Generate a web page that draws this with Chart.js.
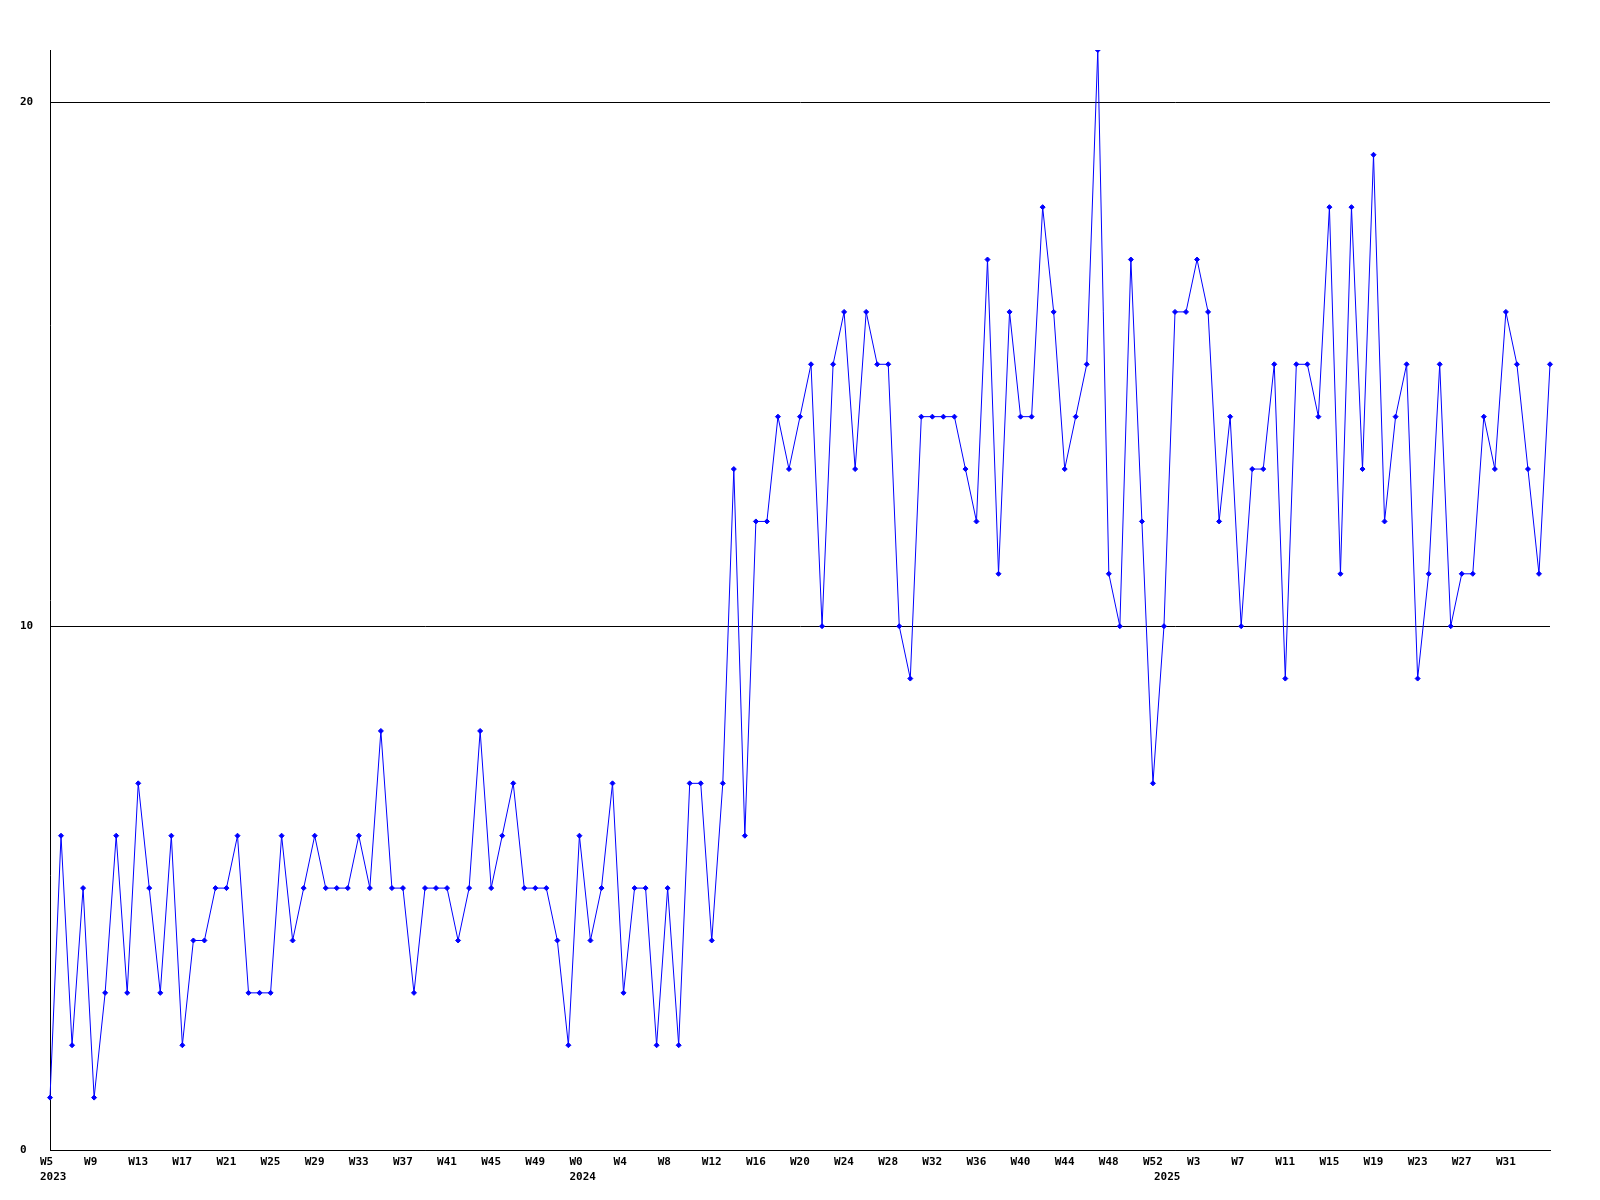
<!DOCTYPE html>
<html>
<head>
<meta charset="utf-8">
<script src="https://cdn.jsdelivr.net/npm/chart.js@4"></script>
<style>
  body { margin: 0; background: #fff; }
</style>
</head>
<body>
<canvas id="chart" width="1600" height="1200"></canvas>
<script>
// weekly counts
const years = [2023, 2024, 2025];
const firstWeeks = [5, 0, 0];
const counts2023 = [1, 6, 2, 5, 1, 3, 6, 3, 7, 5, 3, 6, 2, 4, 4, 5, 5, 6, 3, 3, 3, 6, 4, 5, 6,
                    5, 5, 5, 6, 5, 8, 5, 5, 3, 5, 5, 5, 4, 5, 8, 5, 6, 7, 5, 5, 5, 4, 2];
const counts2024 = [6, 4, 5, 7, 3, 5, 5, 2, 5, 2, 7, 7, 4, 7, 13, 6, 12, 12, 14, 13, 14, 15, 10,
                    15, 16, 13, 16, 15, 15, 10, 9, 14, 14, 14, 14, 13, 12, 17, 11, 16, 14, 14, 18, 16, 13, 14,
                    15, 21, 11, 10, 17, 12, 7];
const counts2025 = [10, 16, 16, 17, 16, 12, 14, 10, 13, 13, 15, 9, 15, 15, 14,
                    18, 11, 18, 13, 19, 12, 14, 15, 9, 11, 15, 10, 11, 11, 14, 13, 16, 15, 13, 11, 15];
const yTicks = [0, 10, 20];
const yMax = 21;
const tickEvery = 4;

// Construction des categories (annee + semaine)
const countsByYear = [counts2023, counts2024, counts2025];
let weekLabels = [];
let weekYears = [];
let values = [];
years.forEach((year, i) => {
    countsByYear[i].forEach((v, j) => {
        weekLabels.push('W' + (firstWeeks[i] + j));
        weekYears.push(year);
        values.push(v);
    });
});

// semaine tous les 4 points, annee sous le premier point de chaque annee
// (pas de label sur le dernier point, il deborderait)
function xLabel(index) {
    let week = (index % tickEvery === 0 && index < weekLabels.length - 1) ? weekLabels[index] : '';
    let newYear = index === 0 || weekYears[index] !== weekYears[index - 1];
    if (newYear) return [week, String(weekYears[index])];
    return week;
}
let xTickLabels = weekLabels.map((w, i) => xLabel(i));

const tickFont = { family: 'DejaVu Sans Mono', size: 11, weight: 'bold', lineHeight: 1.35 };

new Chart(document.getElementById('chart'), {
    type: 'line',
    data: {
        labels: weekLabels,
        datasets: [{
            data: values,
            borderColor: '#0000ff',
            backgroundColor: '#0000ff',
            borderWidth: 1,
            pointStyle: 'rectRot',
            pointRadius: 2.5,
            pointBorderWidth: 1,
            tension: 0,
            fill: false
        }]
    },
    options: {
        responsive: false,
        animation: false,
        devicePixelRatio: 1,
        layout: { padding: { left: 20, right: 50, top: 50, bottom: 0 } },
        plugins: { legend: { display: false }, tooltip: { enabled: false } },
        scales: {
            x: {
                offset: false,
                grid: { display: false, drawTicks: false },
                border: { display: true, color: '#000', width: 1 },
                afterFit: scale => { scale.height = 50; },
                ticks: {
                    autoSkip: false,
                    maxRotation: 0,
                    minRotation: 0,
                    align: 'start',
                    labelOffset: -10,
                    padding: 5,
                    color: '#000',
                    font: tickFont,
                    callback: (value, index) => xTickLabels[index]
                }
            },
            y: {
                min: 0,
                max: yMax,
                grid: { color: '#000', lineWidth: 1, drawTicks: false },
                border: { display: true, color: '#000', width: 1 },
                afterFit: scale => { scale.width = 30; },
                afterBuildTicks: scale => { scale.ticks = yTicks.map(v => ({ value: v })); },
                ticks: {
                    crossAlign: 'far',
                    padding: 0,
                    color: '#000',
                    font: tickFont
                }
            }
        }
    }
});
</script>
</body>
</html>
